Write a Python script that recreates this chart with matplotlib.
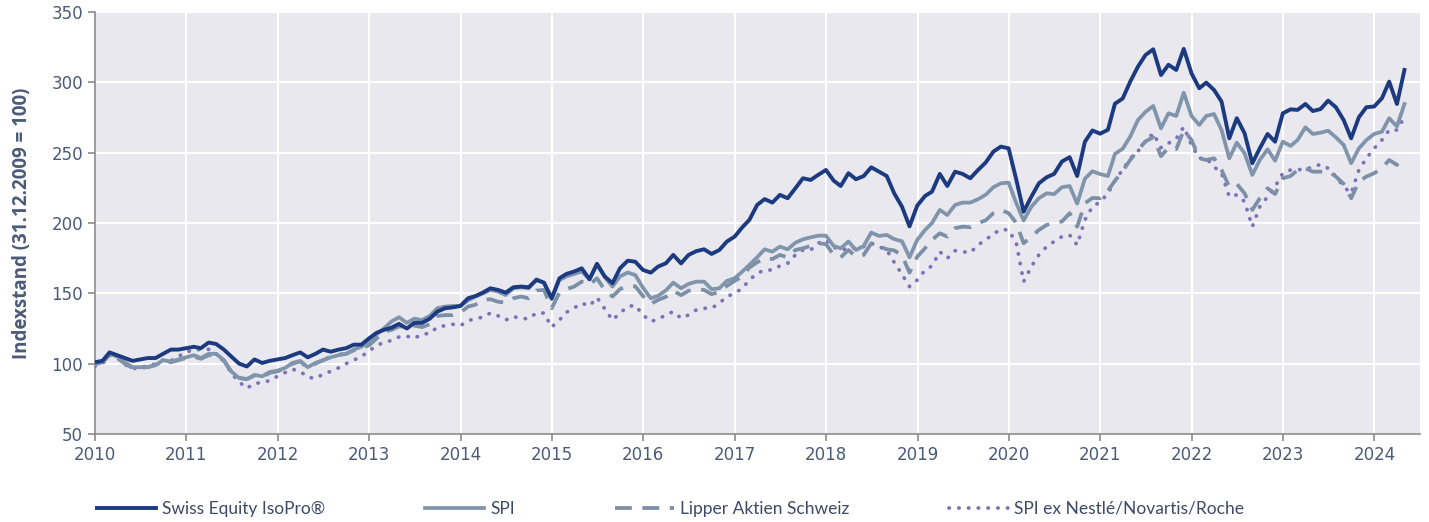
import matplotlib
matplotlib.use("Agg")
import matplotlib.pyplot as plt
import matplotlib.dates as mdates
import pandas as pd

# month-end index values: first entry is 31.12.2009, then one row per year (Jan..Dec)
swiss_equity = [
    101,
    102, 108, 106, 104, 102, 103, 104, 104, 107, 110, 110, 111,                        # 2010
    112, 111, 115, 114, 110, 105, 100, 98, 103, 100.5, 102, 103,                       # 2011
    104, 106, 108, 104.5, 107, 110, 108.5, 110, 111, 113.5, 113.5, 118,                # 2012
    122, 124, 125.6, 128.3, 125, 129, 129, 132, 137, 139.4, 140, 141,                  # 2013
    146.5, 148, 150.5, 153.6, 152.4, 150.5, 154.3, 154.8, 154.3, 159.5, 157.6, 146.5,  # 2014
    160.7, 163.8, 165.5, 167.8, 160, 171, 162, 157.2, 167.8, 173.2, 172.5, 166.6,      # 2015
    164.7, 169, 171.3, 177.3, 171.3, 177.3, 180, 181.3, 178, 180.8, 186.8, 190.3,      # 2016
    197, 202.2, 212.8, 217, 214.5, 220, 217.6, 224.7, 231.8, 230.6, 234.2, 237.7,      # 2017
    230.1, 226.3, 235.4, 231.1, 233.4, 239.6, 236.5, 233.4, 221, 211.6, 197.6, 212.4,  # 2018
    219.2, 222.3, 234.9, 226.3, 236.5, 234.9, 231.8, 237.7, 242.9, 250.7, 254.3, 253.1,  # 2019
    230.6, 208, 218.7, 228.2, 232.5, 234.9, 243.7, 246.8, 233.4, 257.8, 265.8, 263.5,  # 2020
    266.3, 284.8, 288.5, 300.5, 311.2, 319.4, 323.5, 305.2, 312.5, 308.8, 323.8, 306.4,  # 2021
    295.8, 299.8, 294.6, 286.3, 260.2, 274.5, 263.8, 242.5, 253.1, 263.3, 257.8, 278,  # 2022
    280.8, 280.4, 284.6, 279.6, 281, 287, 282.3, 273.2, 260.2, 275.2, 282.3, 282.8,    # 2023
    288.7, 300.5, 284.6, 308.8,                                                        # 2024
]

spi = [
    100,
    102, 107, 105, 101, 97.5, 97.5, 97.6, 99, 102.5, 101.5, 103, 104.5,
    106, 104, 107, 107, 102.5, 94.4, 89.7, 89, 92, 91, 94, 95,
    97, 100.5, 102, 97.5, 100.5, 102.5, 104.5, 106, 107, 110, 112, 115,
    121, 125, 130, 133, 129, 132, 131, 134, 139.4, 140.6, 141, 141,
    145, 147.5, 150, 152.4, 151.2, 148.8, 153.6, 154.3, 153.6, 160, 157.6, 145.8,
    159.5, 162, 163.8, 165.5, 160, 170.3, 161.5, 154.8, 162, 164.8, 163, 154,
    146.5, 148.2, 152, 157.6, 153.6, 156.7, 158.3, 158.3, 152.9, 153.6, 158.8, 160.7,
    165.5, 170.2, 175.6, 181.3, 179.6, 183.2, 181.3, 186, 188.4, 189.8, 191, 191,
    183.7, 182, 186.8, 180.8, 183.7, 193.2, 190.8, 191.5, 188.5, 187, 175.6, 188,
    195, 200, 209.3, 205.7, 212.8, 214.5, 214.5, 216.9, 220, 225.4, 228.2, 228.7,
    214, 201.8, 211.6, 217.6, 221.1, 220.5, 225.4, 226.3, 213.8, 231.5, 236.8, 234.8,
    233.4, 249.1, 252.8, 261.4, 273.2, 279, 283.2, 267.3, 278, 276.1, 292.6, 276.1,
    269.7, 276.1, 277.5, 266.1, 246, 257.1, 249.6, 234.2, 244.8, 252.4, 244.3, 257.8,
    254.8, 259, 268, 263.3, 264.2, 265.6, 260.9, 255.5, 242.5, 253.1, 259, 263.3,
    264.9, 274.5, 268.6, 284.6,
]

lipper = [
    99.5,
    101, 106, 104, 100, 97, 97, 97.5, 99, 102, 101, 102.5, 104,
    105, 103.5, 106, 106, 102, 94, 90, 89, 91.5, 90.5, 93.5, 94.5,
    96.5, 100, 101.5, 97, 100, 102.5, 105, 106.5, 107, 109.5, 111, 113,
    118, 122.8, 124, 126.5, 126, 127, 126, 128, 134, 134.5, 134.5, 136.4,
    140.6, 141.8, 145.3, 145.8, 144, 143.4, 146.5, 147.7, 146.5, 152, 152.4, 139.4,
    150.5, 153, 154.8, 158.3, 156, 160.7, 152.4, 147.7, 153, 155.3, 155, 148,
    142.5, 145.3, 147.5, 151.8, 148.7, 151.8, 152.9, 152.4, 149.4, 151, 155.3, 158.8,
    162, 168.3, 172, 175, 174.4, 177.3, 175.6, 180.8, 182, 183.7, 185.6, 185,
    177.3, 175.6, 180.8, 176, 177.3, 185.6, 183.7, 181.3, 180.5, 177, 164.7, 176.1,
    182, 188, 192.7, 190.3, 196.3, 197.4, 197, 200, 201.8, 207, 209.3, 207,
    200, 185.6, 190.3, 195, 198.6, 200.3, 201, 207, 197.4, 214, 217.8, 217.6,
    223, 230, 237, 244.8, 251.9, 258, 261, 247.5, 253.5, 252.5, 266, 259,
    246, 244.8, 246, 237.7, 225.8, 227.8, 221.1, 209.3, 217.6, 224.7, 220.6, 231.8,
    233.4, 237.7, 238.9, 236.5, 236.5, 237, 233, 227.8, 217.6, 229.6, 233, 235.4,
    238.9, 244.8, 241.3, 247.7,
]

spi_ex = [
    98,
    100, 106, 104, 99.5, 96, 98, 98, 100, 102.5, 102, 105, 108.5,
    109.5, 110.2, 110.2, 107, 102, 93, 87, 82.5, 86, 86.5, 88, 91,
    93.7, 96, 94.5, 90.4, 89.5, 92.5, 94.5, 97, 100, 102.5, 105, 109,
    113, 115, 116.5, 119, 119.5, 118, 121, 121.5, 126, 127, 128, 127,
    130.5, 132, 133, 136, 134, 131, 133.5, 132, 132, 136, 136, 126,
    131, 136.5, 139.6, 143, 141, 147, 139, 131, 136, 140.6, 141.5, 134.6,
    130, 131.6, 134.6, 137, 132.3, 134.6, 138.2, 139.4, 139.4, 143, 147.7, 150,
    153.6, 159.5, 164.2, 166.6, 166.6, 169.5, 171.3, 177.3, 180.8, 180.8, 185.6, 188,
    182.8, 180.8, 182, 182, 183.2, 185.6, 183.2, 180.8, 172, 163.5, 154.8, 159.5,
    166.5, 169.5, 179.6, 174.9, 180.3, 179.6, 178.9, 184.4, 188, 192.2, 195.5, 195,
    185.6, 158.3, 169, 177.3, 183.2, 186.8, 190.3, 191.5, 184.4, 202.2, 211.6, 215,
    221, 230, 238, 246, 251, 258, 263.8, 253.5, 256.7, 260, 268.3, 255.5,
    246, 246, 240, 235.4, 218.7, 220, 215.2, 197.4, 211.6, 218.7, 225.8, 235.4,
    237.7, 238, 238, 240, 241.6, 238.9, 233, 225.8, 221.1, 237.7, 246, 253.1,
    259, 266.1, 266.1, 275.2,
]

labels = ["Swiss Equity IsoPro®", "SPI", "Lipper Aktien Schweiz",
          "SPI ex Nestlé/Novartis/Roche"]
y_ticks = [50, 100, 150, 200, 250, 300, 350]

dates = pd.date_range("2009-12-31", periods=len(swiss_equity), freq="ME")

TXT = "#4a5a78"
fig = plt.figure(figsize=(14.29, 5.22), dpi=100)
ax = fig.add_axes([0.0665, 0.1686, 0.927, 0.8084])
ax.set_facecolor("#e8e8ee")

ax.plot(dates, spi_ex, color="#7d72b8", lw=2.7, dashes=(0.1, 2.5),
        dash_capstyle="round", label=labels[3], zorder=3)
ax.plot(dates, lipper, color="#7b8fa7", lw=2.7, dashes=(4.5, 2.8),
        label=labels[2], zorder=4)
ax.plot(dates, spi, color="#8095ab", lw=2.7, label=labels[1], zorder=5)
ax.plot(dates, swiss_equity, color="#1c3a80", lw=2.8, label=labels[0], zorder=6)

ax.set_ylim(50, 350)
ax.set_yticks(y_ticks)
ax.set_xlim(pd.Timestamp("2010-01-01"), pd.Timestamp("2024-06-30"))
ax.xaxis.set_major_locator(mdates.YearLocator())
ax.xaxis.set_major_formatter(mdates.DateFormatter("%Y"))

ax.grid(True, color="white", lw=1.5)
ax.set_axisbelow(True)
for s in ["top", "right"]:
    ax.spines[s].set_visible(False)
for s in ["left", "bottom"]:
    ax.spines[s].set_color("#8a8a8a")
    ax.spines[s].set_linewidth(1.2)
ax.tick_params(axis="both", colors="#8a8a8a", labelcolor=TXT, labelsize=12,
               length=5, width=1.2)
ax.set_ylabel("Indexstand (31.12.2009 = 100)", fontsize=13.5, fontweight="bold",
              color=TXT, family="Open Sans", labelpad=14)

handles, labs = ax.get_legend_handles_labels()
order = [3, 2, 1, 0]
leg = fig.legend([handles[i] for i in order], [labs[i] for i in order],
                 loc="lower left", bbox_to_anchor=(0.057, -0.02), ncol=4,
                 frameon=False, handlelength=3.4, handletextpad=0.35,
                 columnspacing=5.75, prop={"family": "Lato", "size": 12.5})
for t in leg.get_texts():
    t.set_color("#3d4a66")

fig.savefig("out.png", dpi=100)
